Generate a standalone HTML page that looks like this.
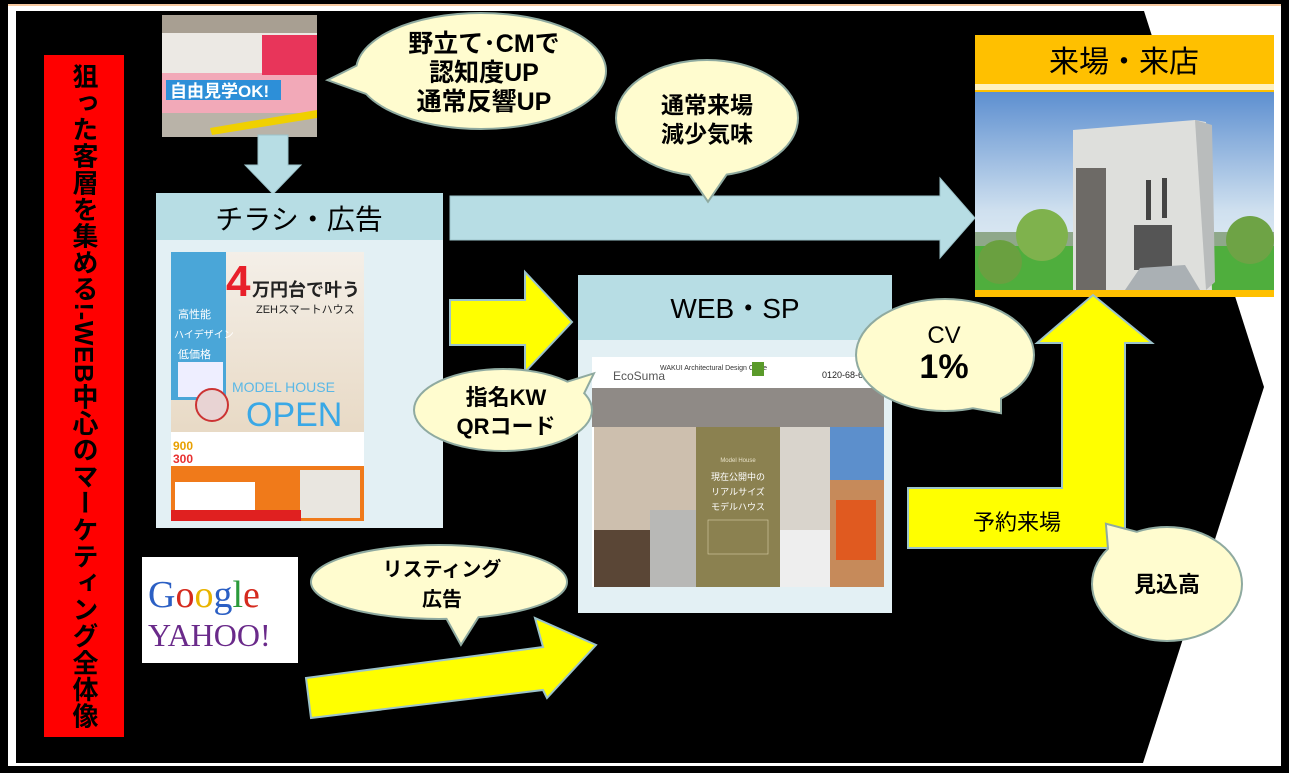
<!DOCTYPE html>
<html><head><meta charset="utf-8"><style>
html,body{margin:0;padding:0;background:#000;width:1289px;height:773px;overflow:hidden}
svg{display:block}
.vt{position:absolute;left:44px;top:55px;width:80px;height:682px;background:#ff0000;}
.vt div{writing-mode:vertical-rl;white-space:nowrap;font-family:"Liberation Sans","Noto Sans CJK JP",sans-serif;font-weight:bold;font-size:26px;color:#000;position:absolute;left:26px;top:8px;line-height:28px;letter-spacing:0.6px}
</style></head><body>
<svg width="1289" height="773" viewBox="0 0 1289 773" xmlns="http://www.w3.org/2000/svg" style="position:absolute;left:0;top:0" font-family="'Liberation Sans','Noto Sans CJK JP',sans-serif">
<defs>
<linearGradient id="sky" x1="0" y1="0" x2="0" y2="1"><stop offset="0" stop-color="#5d8fd0"/><stop offset="0.6" stop-color="#cfe0ef"/><stop offset="1" stop-color="#eef4f8"/></linearGradient>
<linearGradient id="fl" x1="0" y1="0" x2="0" y2="1"><stop offset="0" stop-color="#f4efe8"/><stop offset="1" stop-color="#e2cfb4"/></linearGradient>
</defs>
<rect x="0" y="0" width="1289" height="773" fill="#000"/>
<rect x="8" y="6" width="1273" height="760" fill="#fff"/>
<rect x="8" y="4" width="1273" height="2" fill="#f6c9a0"/>
<polygon points="16,11 1144,11 1264,387 1143,763 16,763" fill="#000"/>

<rect x="162" y="15" width="155" height="122" fill="#d9d4cc"/>
<rect x="162" y="15" width="155" height="18" fill="#a89f92"/>
<rect x="162" y="33" width="155" height="40" fill="#ece9e4"/>
<rect x="162" y="73" width="155" height="40" fill="#f2a9b8"/>
<rect x="166" y="80" width="115" height="20" fill="#2d8fd8"/>
<text x="170" y="97" font-size="17" font-weight="bold" fill="#fff">自由見学OK!</text>
<rect x="262" y="35" width="55" height="40" fill="#e8355a"/>
<rect x="162" y="113" width="155" height="24" fill="#b9b3a8"/>
<polygon points="210,128 317,110 317,118 212,135" fill="#f0d000"/>

<polygon points="258,135 288,135 288,165 301,165 273,194 245,165 258,165" fill="#b7dde4" stroke="#9cc3ca" stroke-width="1"/>

<rect x="156" y="193" width="287" height="335" fill="#e3f0f4"/>
<rect x="156" y="193" width="287" height="47" fill="#b7dde4"/>
<text x="299" y="229" font-size="28" text-anchor="middle" fill="#000">チラシ・広告</text>
<rect x="171" y="252" width="193" height="269" fill="url(#fl)"/>
<rect x="171" y="252" width="55" height="148" fill="#4aa6d8"/>
<text x="178" y="318" font-size="11" fill="#fff">高性能</text>
<text x="174" y="338" font-size="10" fill="#fff">ハイデザイン</text>
<text x="178" y="358" font-size="11" fill="#fff">低価格</text>
<text x="226" y="296" font-size="44" font-weight="bold" fill="#e8202a">4</text>
<text x="252" y="296" font-size="18" font-weight="bold" fill="#222">万円台で叶う</text>
<text x="256" y="313" font-size="11" fill="#222">ZEHスマートハウス</text>
<rect x="178" y="362" width="45" height="35" fill="#eef" />
<text x="232" y="392" font-size="14" fill="#5ab8e6">MODEL HOUSE</text>
<text x="246" y="426" font-size="34" fill="#3aa8e6">OPEN</text>
<circle cx="212" cy="405" r="16" fill="#e8d3d3" stroke="#c33" stroke-width="2"/>
<rect x="171" y="432" width="193" height="34" fill="#fff"/>
<text x="173" y="450" font-size="12" font-weight="bold" fill="#e8a000">900</text>
<text x="173" y="463" font-size="12" font-weight="bold" fill="#e83030">300</text>
<rect x="171" y="466" width="193" height="55" fill="#f07a1a"/>
<rect x="175" y="482" width="80" height="30" fill="#fff"/>
<rect x="300" y="470" width="60" height="48" fill="#e9e6e0"/>
<rect x="171" y="510" width="130" height="11" fill="#e02020"/>

<polygon points="450,196 940,196 940,178 975,218 940,258 940,240 450,240" fill="#b7dde4" stroke="#9cc3ca" stroke-width="1"/>

<rect x="975" y="35" width="299" height="262" fill="#ffc000"/>
<rect x="975" y="84" width="299" height="6" fill="#fff1c0"/>
<text x="1124" y="72" font-size="30" text-anchor="middle" fill="#000">来場・来店</text>
<rect x="975" y="92" width="299" height="198" fill="url(#sky)"/>
<rect x="975" y="240" width="299" height="50" fill="#4fae3d"/>
<rect x="975" y="232" width="299" height="14" fill="#8fa88a"/>
<polygon points="1073,130 1195,120 1206,122 1212,290 1073,290" fill="#dedfdc"/>
<polygon points="1195,120 1212,125 1215,282 1206,290" fill="#b9bcbc"/>
<rect x="1076" y="168" width="30" height="122" fill="#6d6a66"/>
<rect x="1146" y="180" width="5" height="40" fill="#444"/>
<rect x="1162" y="178" width="5" height="40" fill="#444"/>
<rect x="1134" y="225" width="38" height="45" fill="#555"/>
<path d="M1125,290 L1140,268 L1185,265 L1200,290 Z" fill="#aab0b4"/>
<circle cx="1042" cy="235" r="26" fill="#7fb24d"/>
<circle cx="1000" cy="262" r="22" fill="#6aa040"/>
<circle cx="1250" cy="240" r="24" fill="#6ea345"/>

<polygon points="450,300 525,300 525,272 572,322 525,372 525,345 450,345" fill="#ffff00" stroke="#9cc3ca" stroke-width="2"/>

<rect x="578" y="275" width="314" height="338" fill="#e3f0f4"/>
<rect x="578" y="275" width="314" height="65" fill="#b7dde4"/>
<text x="735" y="318" font-size="28" text-anchor="middle" fill="#000">WEB・SP</text>
<rect x="592" y="357" width="292" height="230" fill="#fff"/>
<text x="613" y="380" font-size="12" fill="#555">EcoSuma</text>
<text x="660" y="370" font-size="7" fill="#333">WAKUI Architectural Design Office</text>
<rect x="752" y="362" width="12" height="14" fill="#5a9a2a"/>
<text x="822" y="378" font-size="9" fill="#222">0120-68-6565</text>
<rect x="592" y="388" width="292" height="39" fill="#8f8a86"/>
<rect x="594" y="427" width="102" height="160" fill="#cdbfae"/>
<rect x="594" y="530" width="60" height="57" fill="#5a4636"/>
<rect x="650" y="510" width="46" height="77" fill="#b8b8b6"/>
<rect x="696" y="427" width="84" height="160" fill="#8b8150"/>
<text x="738" y="462" font-size="6" text-anchor="middle" fill="#e8e2c8">Model House</text>
<text x="738" y="480" font-size="9" text-anchor="middle" fill="#fff">現在公開中の</text>
<text x="738" y="495" font-size="9" text-anchor="middle" fill="#fff">リアルサイズ</text>
<text x="738" y="510" font-size="9" text-anchor="middle" fill="#fff">モデルハウス</text>
<rect x="708" y="520" width="60" height="34" fill="none" stroke="#d8d0a8" stroke-width="0.6"/>
<rect x="780" y="427" width="50" height="160" fill="#d9d4cc"/>
<rect x="780" y="530" width="50" height="57" fill="#eeeeee"/>
<rect x="830" y="427" width="54" height="160" fill="#5c8fcc"/>
<rect x="830" y="480" width="54" height="107" fill="#c68a5a"/>
<rect x="836" y="500" width="40" height="60" fill="#e05a20"/>

<polygon points="306,678 543,647 535,618 596,645 547,698 543,690 311,718" fill="#ffff00" stroke="#9cc3ca" stroke-width="2"/>

<polygon points="1093,295 1152,343 1125,343 1125,548 908,548 908,488 1062,488 1062,343 1037,343" fill="#ffff00" stroke="#9cc3ca" stroke-width="2"/>
<text x="1017" y="530" font-size="22" text-anchor="middle" fill="#000">予約来場</text>

<rect x="142" y="557" width="156" height="106" fill="#fff"/>
<text x="148" y="607" font-size="38" font-family="'Liberation Serif',serif" fill="#2b5fc4">G<tspan fill="#d52a1e">o</tspan><tspan fill="#e9b400">o</tspan><tspan fill="#2b5fc4">g</tspan><tspan fill="#2a9a3a">l</tspan><tspan fill="#d52a1e">e</tspan></text>
<text x="148" y="646" font-size="32" font-family="'Liberation Serif',serif" fill="#6a2a8a">YAHOO!</text>

<g fill="#fffccf" stroke="#8faaa0" stroke-width="4">
<ellipse cx="481" cy="71" rx="124" ry="57"/><polygon points="330,80 370,60 372,95"/>
<ellipse cx="707" cy="118" rx="90" ry="57"/><polygon points="708,200 686,168 730,168"/>
<ellipse cx="503" cy="410" rx="88" ry="40"/><polygon points="592,375 560,385 570,420"/>
<ellipse cx="945" cy="355" rx="88" ry="55"/><polygon points="1000,412 960,405 1000,385"/>
<ellipse cx="1167" cy="584" rx="74" ry="56"/><polygon points="1107,525 1145,535 1110,560"/>
<ellipse cx="439" cy="582" rx="127" ry="36"/><polygon points="461,643 440,605 485,605"/>
</g>
<g fill="#fffccf">
<ellipse cx="481" cy="71" rx="124" ry="57"/><polygon points="330,80 370,60 372,95"/>
<ellipse cx="707" cy="118" rx="90" ry="57"/><polygon points="708,200 686,168 730,168"/>
<ellipse cx="503" cy="410" rx="88" ry="40"/><polygon points="592,375 560,385 570,420"/>
<ellipse cx="945" cy="355" rx="88" ry="55"/><polygon points="1000,412 960,405 1000,385"/>
<ellipse cx="1167" cy="584" rx="74" ry="56"/><polygon points="1107,525 1145,535 1110,560"/>
<ellipse cx="439" cy="582" rx="127" ry="36"/><polygon points="461,643 440,605 485,605"/>
</g>
<g font-weight="bold" fill="#000" text-anchor="middle">
<text x="484" y="52" font-size="25">野立て･CMで</text>
<text x="484" y="81" font-size="25">認知度UP</text>
<text x="484" y="110" font-size="25">通常反響UP</text>
<text x="707" y="113" font-size="23">通常来場</text>
<text x="707" y="142" font-size="23">減少気味</text>
<text x="506" y="405" font-size="22">指名KW</text>
<text x="506" y="434" font-size="22">QRコード</text>
<text x="944" y="343" font-size="24" font-weight="normal">CV</text>
<text x="944" y="378" font-size="34">1%</text>
<text x="1167" y="592" font-size="22">見込高</text>
<text x="442" y="576" font-size="20">リスティング</text>
<text x="442" y="606" font-size="20">広告</text>
</g>
</svg>
<div class="vt"><div>狙った客層を集める!-WEB中心のマーケティング全体像</div></div>
</body></html>
